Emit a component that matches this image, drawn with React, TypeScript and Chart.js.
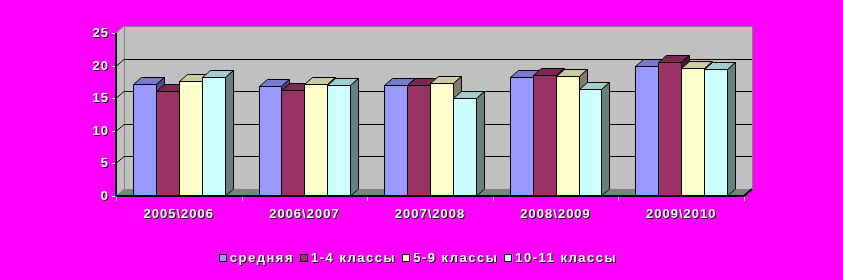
import React, { useEffect, useRef } from "react";
import { Chart, registerables } from "chart.js";

Chart.register(...registerables);

const categories = ["2005\\2006", "2006\\2007", "2007\\2008", "2008\\2009", "2009\\2010"];
const seriesNames = ["средняя", "1-4 классы", "5-9 классы", "10-11 классы"];
const avgValues = [17.2, 16.9, 17.0, 18.2, 19.9];
const grade14Values = [16.1, 16.3, 17.0, 18.5, 20.5];
const grade59Values = [17.6, 17.2, 17.4, 18.4, 19.7];
const grade1011Values = [18.2, 17.0, 15.0, 16.4, 19.5];
const yTicks = [0, 5, 10, 15, 20, 25];

const frontColors = ["#9999FF", "#993366", "#FFFFCC", "#CCFFFF"];
const topColors = ["#7A7ACC", "#7A2952", "#CCCCA3", "#A3CCCC"];
const sideColors = ["#4D4D80", "#4D1A33", "#808066", "#668080"];

const DX = 8;
const DY = 7;
const FONT = "bold 13px 'Liberation Sans', Arial, sans-serif";

function shadowText(ctx: CanvasRenderingContext2D, text: string, x: number, y: number) {
  ctx.save();
  ctx.fillStyle = "#000000";
  ctx.fillText(text, x + 1, y + 1);
  ctx.fillStyle = "#FFFFFF";
  ctx.fillText(text, x, y);
  ctx.restore();
}

const threeD = {
  id: "threeD",
  beforeDraw(chart: any) {
    const ctx = chart.ctx;
    ctx.save();
    ctx.fillStyle = "#FF00FF";
    ctx.fillRect(0, 0, chart.width, chart.height);
    ctx.restore();
  },
  beforeDatasetsDraw(chart: any) {
    const ctx: CanvasRenderingContext2D = chart.ctx;
    const { left, right, top, bottom } = chart.chartArea;
    const y = chart.scales.y;
    ctx.save();
    // side wall
    ctx.fillStyle = "#C0C0C0";
    ctx.beginPath();
    ctx.moveTo(left, top);
    ctx.lineTo(left + DX, top - DY);
    ctx.lineTo(left + DX, bottom - DY);
    ctx.lineTo(left, bottom);
    ctx.closePath();
    ctx.fill();
    // back wall
    ctx.fillStyle = "#C0C0C0";
    ctx.fillRect(left + DX, top - DY, right - left, bottom - top);
    ctx.strokeStyle = "#808080";
    ctx.lineWidth = 1;
    ctx.strokeRect(left + DX + 0.5, top - DY + 0.5, right - left, bottom - top);
    ctx.beginPath();
    ctx.moveTo(left, top);
    ctx.lineTo(left + DX, top - DY);
    ctx.stroke();
    // floor
    ctx.fillStyle = "#808080";
    ctx.beginPath();
    ctx.moveTo(left, bottom);
    ctx.lineTo(right, bottom);
    ctx.lineTo(right + DX, bottom - DY);
    ctx.lineTo(left + DX, bottom - DY);
    ctx.closePath();
    ctx.fill();
    // gridlines
    ctx.strokeStyle = "#000000";
    ctx.lineWidth = 1;
    for (const v of yTicks) {
      if (v === 0 || v === 25) continue;
      const py = Math.round(y.getPixelForValue(v)) + 0.5;
      ctx.beginPath();
      ctx.moveTo(left, py);
      ctx.lineTo(left + DX, py - DY);
      ctx.lineTo(right + DX, py - DY);
      ctx.stroke();
    }
    // y axis line
    ctx.lineWidth = 2;
    ctx.beginPath();
    ctx.moveTo(left, top);
    ctx.lineTo(left, bottom);
    ctx.stroke();
    // y ticks + labels
    ctx.font = FONT;
    (ctx as any).letterSpacing = "1px";
    ctx.textAlign = "right";
    ctx.textBaseline = "middle";
    for (const v of yTicks) {
      const py = Math.round(y.getPixelForValue(v)) + 0.5;
      ctx.strokeStyle = "#FFFFFF";
      ctx.lineWidth = 1;
      ctx.beginPath();
      ctx.moveTo(left - 4, py);
      ctx.lineTo(left - 1, py);
      ctx.stroke();
      shadowText(ctx, String(v), left - 7, py);
    }
    ctx.restore();
  },
  afterDatasetsDraw(chart: any) {
    const ctx: CanvasRenderingContext2D = chart.ctx;
    const { left, right, bottom } = chart.chartArea;
    const x = chart.scales.x;
    ctx.save();
    // 3D bars, drawn left to right so nearer faces cover farther ones
    ctx.strokeStyle = "#000000";
    ctx.lineWidth = 1;
    ctx.lineJoin = "miter";
    const nSets = chart.data.datasets.length;
    const nCats = categories.length;
    for (let c = 0; c < nCats; c++) {
      for (let i = 0; i < nSets; i++) {
        const el = chart.getDatasetMeta(i).data[c];
        if (!el) continue;
        const p = el.getProps(["x", "y", "base", "width"], true);
        const L = Math.round(p.x - p.width / 2) + 0.5;
        const R = Math.round(p.x + p.width / 2) + 0.5;
        const T = Math.round(p.y) + 0.5;
        const B = Math.round(p.base);
        // front
        ctx.fillStyle = frontColors[i];
        ctx.fillRect(L, T, R - L, B - T);
        ctx.strokeRect(L, T, R - L, B - T);
        // top face
        ctx.fillStyle = topColors[i];
        ctx.beginPath();
        ctx.moveTo(L, T);
        ctx.lineTo(R, T);
        ctx.lineTo(R + DX, T - DY);
        ctx.lineTo(L + DX, T - DY);
        ctx.closePath();
        ctx.fill();
        ctx.stroke();
        // side face
        ctx.fillStyle = sideColors[i];
        ctx.beginPath();
        ctx.moveTo(R, T);
        ctx.lineTo(R + DX, T - DY);
        ctx.lineTo(R + DX, B - DY);
        ctx.lineTo(R, B);
        ctx.closePath();
        ctx.fill();
        ctx.stroke();
      }
    }
    // x axis
    ctx.strokeStyle = "#000000";
    ctx.lineWidth = 2;
    ctx.beginPath();
    ctx.moveTo(left, bottom);
    ctx.lineTo(right, bottom);
    ctx.lineTo(right + DX, bottom - DY);
    ctx.stroke();
    // category ticks
    ctx.strokeStyle = "#FFFFFF";
    ctx.lineWidth = 1;
    for (let k = 0; k <= nCats; k++) {
      const px = Math.round(left + ((right - left) * k) / nCats) + 0.5;
      ctx.beginPath();
      ctx.moveTo(px, bottom + 1);
      ctx.lineTo(px, bottom + 5);
      ctx.stroke();
    }
    // category labels
    ctx.font = FONT;
    (ctx as any).letterSpacing = "1px";
    ctx.textAlign = "center";
    ctx.textBaseline = "middle";
    categories.forEach((c, k) => {
      shadowText(ctx, c, x.getPixelForValue(k), bottom + 18);
    });
    // legend
    (ctx as any).letterSpacing = "1.5px";
    ctx.textAlign = "left";
    const box = 8;
    const gapBoxText = 3;
    const gapItems = 6;
    const widths = seriesNames.map((s) => ctx.measureText(s).width);
    const total = widths.reduce((a, w) => a + box + gapBoxText + w, 0) + gapItems * (seriesNames.length - 1);
    let cx = 418 - total / 2;
    const ly = 258;
    seriesNames.forEach((s, k) => {
      ctx.fillStyle = frontColors[k];
      ctx.fillRect(cx, ly - 4, box, box);
      ctx.strokeStyle = "#000000";
      ctx.lineWidth = 1;
      ctx.strokeRect(Math.round(cx) + 0.5, ly - 3.5, box - 1, box - 1);
      shadowText(ctx, s, cx + box + gapBoxText, ly);
      cx += box + gapBoxText + widths[k] + gapItems;
    });
    ctx.restore();
  },
};

export default function App() {
  const ref = useRef<HTMLCanvasElement | null>(null);
  useEffect(() => {
    document.body.style.margin = "0";
    document.body.style.background = "#FF00FF";
    const canvas = ref.current;
    if (!canvas) return;
    const chart = new Chart(canvas, {
      type: "bar",
      data: {
        labels: categories,
        datasets: [avgValues, grade14Values, grade59Values, grade1011Values].map((d, i) => ({
          label: seriesNames[i],
          data: d,
          backgroundColor: "rgba(0,0,0,0)",
          borderWidth: 0,
          categoryPercentage: 0.73,
          barPercentage: 1,
        })),
      },
      options: {
        responsive: false,
        animation: false,
        devicePixelRatio: 1,
        layout: { padding: { left: 116, right: 99, top: 33, bottom: 84 } },
        plugins: { legend: { display: false }, tooltip: { enabled: false }, title: { display: false } },
        scales: {
          x: { display: false, offset: true },
          y: { display: false, min: 0, max: 25 },
        },
      },
      plugins: [threeD],
    });
    return () => chart.destroy();
  }, []);
  return (
    <div style={{ width: 843, height: 280, background: "#FF00FF" }}>
      <canvas ref={ref} width={843} height={280} style={{ display: "block" }} />
    </div>
  );
}
